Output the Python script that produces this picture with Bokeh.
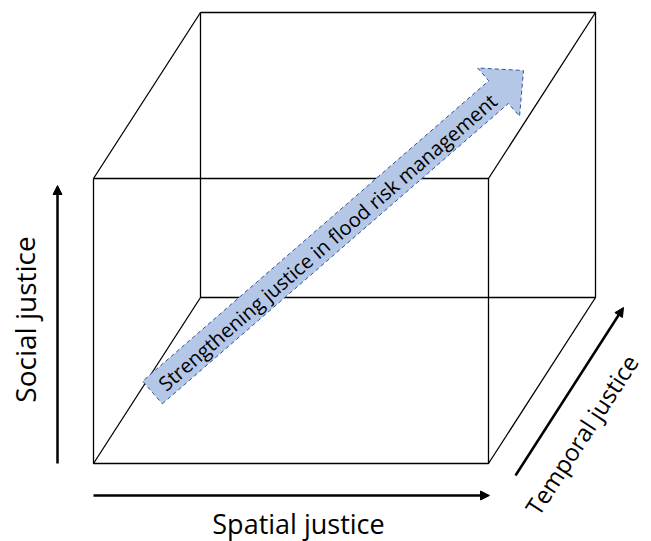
import numpy as np
from bokeh.plotting import figure
from bokeh.models import Range1d, Arrow, NormalHead
from bokeh.core.properties import value
from bokeh.embed import file_html
from bokeh.resources import INLINE

PAGE_H = 541  # page pixel height; y_data = PAGE_H - y_page

# Cube geometry (page pixel coords)
front_x = [93, 488]
front_y = [178, 463]
depth_offset = [107, -166]

# Axis arrows: [x0, y0, x1, y1]
spatial_arrow = [93, 495, 489, 495]
social_arrow = [57, 463, 57, 185]
temporal_arrow = [515, 475, 623, 307]

# Labels: text, x, y, angle(deg), size
labels = ["Spatial justice", "Social justice", "Temporal justice"]
label_x = [298, 24, 581]
label_y = [523, 319, 434]
label_angle = [0, 90, 57]
label_size = ["27px", "28px", "24px"]

# Big arrow
big_tail = [152, 392]
big_tip = [523, 70]
big_shaft_half = 15
big_head_half = 32
big_head_len = 33
big_text = "Strengthening justice in flood risk management"

FONT = "Open Sans"

p = figure(width=651, height=541, x_range=Range1d(0, 651), y_range=Range1d(0, 541),
           output_backend="svg", toolbar_location=None,
           x_axis_location=None, y_axis_location=None, min_border=0)
p.grid.visible = False
p.outline_line_color = None
p.background_fill_color = "white"

def Y(y):
    return PAGE_H - np.asarray(y, dtype=float)

x0, x1 = front_x
y0, y1 = front_y
dx, dy = depth_offset
fx = [x0, x1, x1, x0, x0]
fy = [y0, y0, y1, y1, y0]
bx = [v + dx for v in fx]
by = [v + dy for v in fy]
lw = 1.3
p.line(fx, Y(fy), line_color="black", line_width=lw)
p.line(bx, Y(by), line_color="black", line_width=lw)
for cx, cy in [(x0, y0), (x1, y0), (x1, y1), (x0, y1)]:
    p.line([cx, cx + dx], Y([cy, cy + dy]), line_color="black", line_width=lw)

# Big arrow polygon
T = np.array(big_tail, float); P = np.array(big_tip, float)
u = (P - T) / np.linalg.norm(P - T)
n = np.array([-u[1], u[0]])
B = P - big_head_len * u
pts = [T + big_shaft_half * n, B + big_shaft_half * n, B + big_head_half * n, P,
       B - big_head_half * n, B - big_shaft_half * n, T - big_shaft_half * n]
px = [q[0] for q in pts]; py = [q[1] for q in pts]
p.patch(px, Y(py), fill_color="#B4C7E7", line_color="#2F5597", line_width=1,
        line_dash="4 3")
mid = (T + B) / 2
ang = np.degrees(np.arctan2(-(P - T)[1], (P - T)[0]))
p.text(x=[mid[0] + 2], y=[float(Y(mid[1]))], text=[big_text], angle=[np.radians(ang)],
       text_align="center", text_baseline="middle", text_font=value(FONT),
       text_font_size="20px", text_color="black")

# Axis arrows
for a in [spatial_arrow, social_arrow, temporal_arrow]:
    p.add_layout(Arrow(end=NormalHead(size=9, fill_color="black", line_color="black"),
                       x_start=a[0], y_start=float(Y(a[1])), x_end=a[2], y_end=float(Y(a[3])),
                       line_width=2.5, line_color="black"))

for t, lx, ly, la, ls in zip(labels, label_x, label_y, label_angle, label_size):
    p.text(x=[lx], y=[float(Y(ly))], text=[t], angle=[np.radians(la)],
           text_align="center", text_baseline="middle", text_font=value(FONT),
           text_font_size=ls, text_color="black")

open("out.html", "w").write(file_html(p, INLINE))
